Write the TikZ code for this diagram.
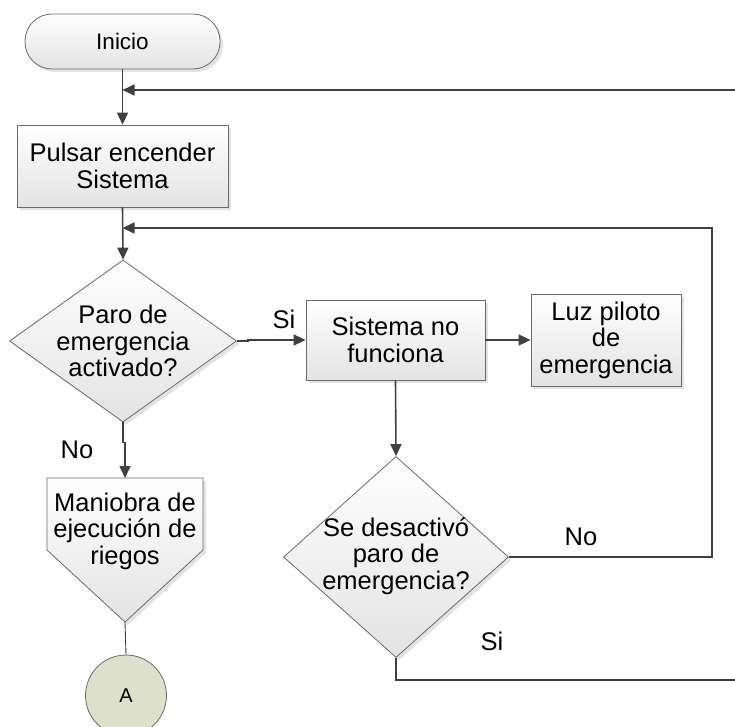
\documentclass[tikz,border=0pt]{standalone}
\usepackage{fontspec}
\setmainfont{Liberation Sans}
\usetikzlibrary{shapes.geometric,arrows.meta,shadows}
\definecolor{linec}{HTML}{404040}
\definecolor{bordc}{HTML}{6A6A6A}
\definecolor{circf}{HTML}{DDE1CB}
\begin{document}
\begin{tikzpicture}[x=1pt,y=-1pt,
  every node/.style={font=\fontsize{25.5}{26.5}\selectfont, text=black},
  shade/.style={draw=bordc, line width=0.8pt, top color=white, bottom color=black!11,
    drop shadow={opacity=0.22, shadow xshift=3pt, shadow yshift=-3pt}},
  boxs/.style={shade, rectangle, align=center, inner sep=0pt},
  dia/.style={shade, diamond, inner sep=0pt},
  txt/.style={align=center, inner sep=0pt},
  lbl/.style={inner sep=0pt},
  conn/.style={draw=linec, line width=1.6pt},
  arr/.style={conn, -{Triangle[length=12pt,width=11pt]}}]
\useasboundingbox (0,0) rectangle (735,726);

% nodes
\node[boxs, rounded corners=27pt, minimum width=195pt, minimum height=55pt,
  font=\fontsize{22.5}{26}\selectfont] (ini) at (122.5,41.5) {Inicio};
\node[boxs, minimum width=211pt, minimum height=82pt] (pul) at (122.5,166) {Pulsar encender\\Sistema};
\node[dia, minimum width=227pt, minimum height=162pt] (d1) at (123,341) {};
\node[txt] (d1t) at (123,341) {Paro de\\emergencia\\activado?};
\node[boxs, minimum width=179pt, minimum height=80pt] (sis) at (395.5,340) {Sistema no\\funciona};
\node[boxs, minimum width=150pt, minimum height=92pt] (luz) at (606,340) {Luz piloto\\de\\emergencia};
\node[dia, minimum width=225pt, minimum height=201pt] (d2) at (396,557) {};
\node[txt] (d2t) at (396,556) {Se desactivó\\paro de\\emergencia?};

% off-page connector shape
\draw[shade] (47,478) -- (203,478) -- (203,550) -- (125,622) -- (47,550) -- cycle;
\coordinate (mtop) at (125,478);
\coordinate (mtip) at (125,622);
\node[txt] (man) at (125,531) {Maniobra de\\ejecución de\\riegos};

\node[circle, draw=bordc, line width=0.8pt, fill=circf, minimum size=81pt, inner sep=0pt,
  font=\fontsize{20}{22}\selectfont] (A) at (126,695.5) {A};

% free ends
\coordinate (rt1) at (736,90);
\coordinate (r2) at (712,228);
\coordinate (rb) at (736,680);

% connectors
\draw[arr] (ini.south) -- (pul.north);
\draw[arr] (rt1) -- (rt1 -| ini.south);
\draw[arr] (pul.south) -- (d1.north);
\draw[arr] (d2.east) -| (r2) -- (r2 -| pul.south);
\draw[arr] (d1.east) -- ++(11,0) |- (sis.west);
\draw[arr] (sis.east) -- (luz.west);
\draw[arr] (sis.south) -- (d2.north);
\draw[conn] (d2.south) |- (rb);
\draw[arr] (d1.south) -- ++(0,20) -| (mtop);
\draw[draw=linec, line width=0.9pt] (mtip) -- (A.north);

% labels
\node[lbl] (lsi1) at (284,319) {Si};
\node[lbl] (lno1) at (77,450) {No};
\node[lbl] (lno2) at (581,537) {No};
\node[lbl] (lsi2) at (492,641) {Si};
\end{tikzpicture}
\end{document}
